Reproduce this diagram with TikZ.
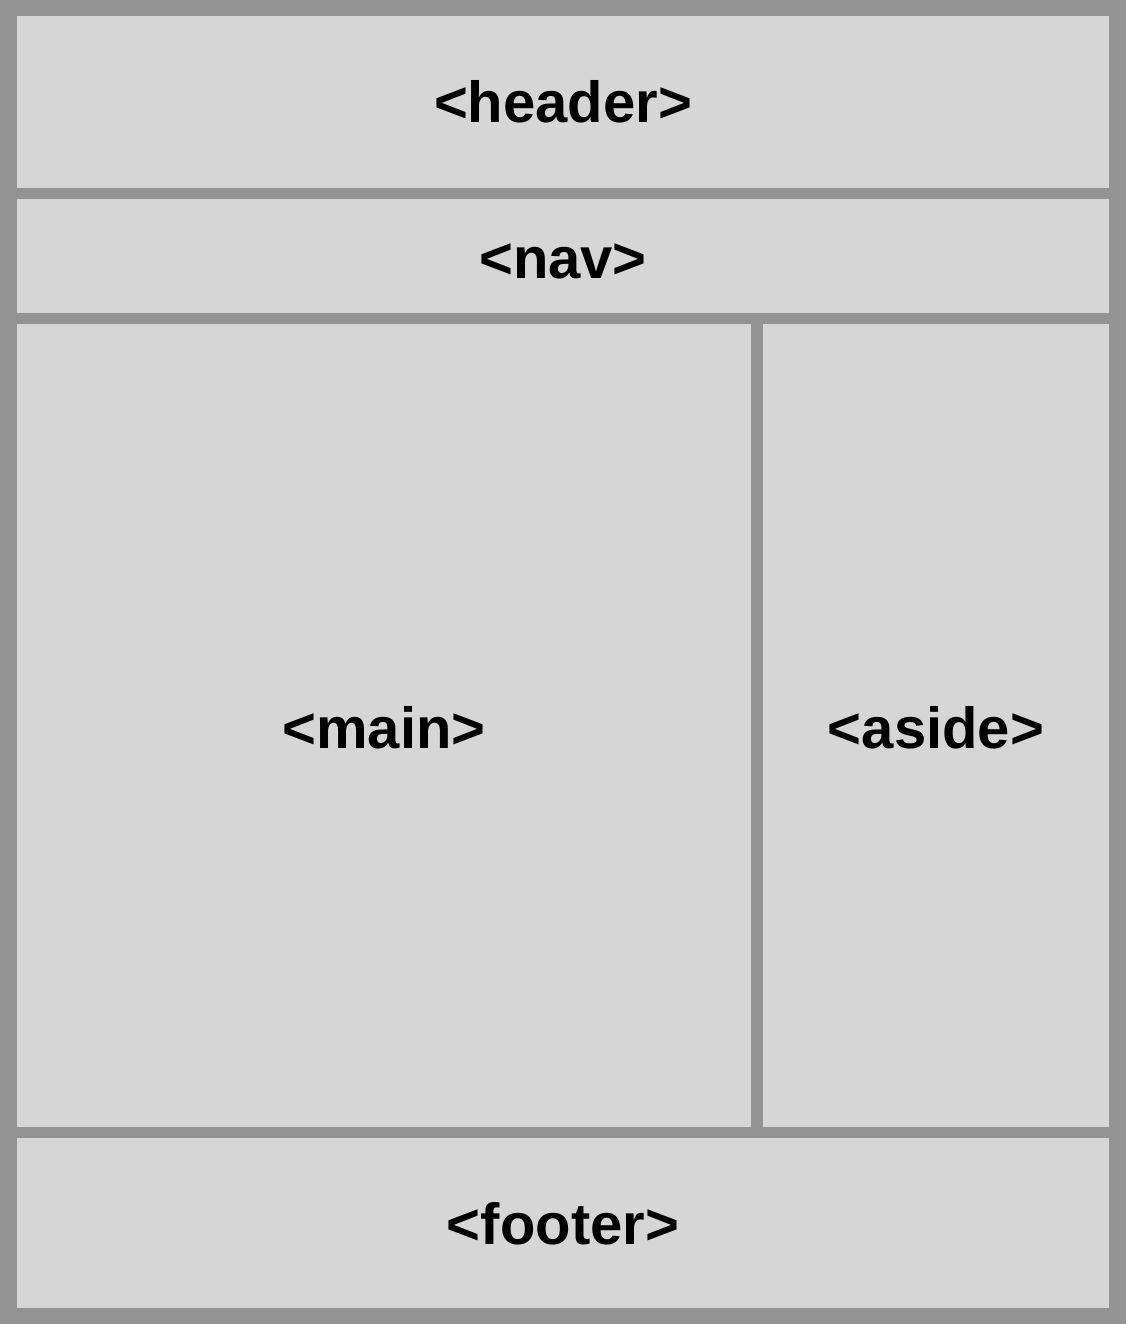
\documentclass[tikz,border=0pt]{standalone}
\usepackage{fontspec}
\setmainfont{Liberation Sans}
\definecolor{frame}{HTML}{939393}
\definecolor{cell}{HTML}{D6D6D6}
\begin{document}
\begin{tikzpicture}[x=1pt,y=-1pt,
  celltext/.style={inner sep=0pt, font=\fontsize{58}{60}\selectfont\bfseries},
  cellfill/.style={fill=cell}]
\fill[frame] (0,0) rectangle (1126,1324);
\useasboundingbox (0,0) rectangle (1126,1324);
\fill[cellfill] (17,16) rectangle (1109,188);
\node[celltext] (header) at (563,102) {<header>};
\fill[cellfill] (17,199) rectangle (1109,313);
\node[celltext] (nav) at (563,261) {<nav>};
\fill[cellfill] (17,324) rectangle (751,1127);
\node[celltext] (main) at (384,728) {<main>};
\fill[cellfill] (763,324) rectangle (1109,1127);
\node[celltext] (aside) at (936,728) {<aside>};
\fill[cellfill] (17,1138) rectangle (1109,1308);
\node[celltext] (footer) at (563,1224) {<footer>};
\end{tikzpicture}
\end{document}
